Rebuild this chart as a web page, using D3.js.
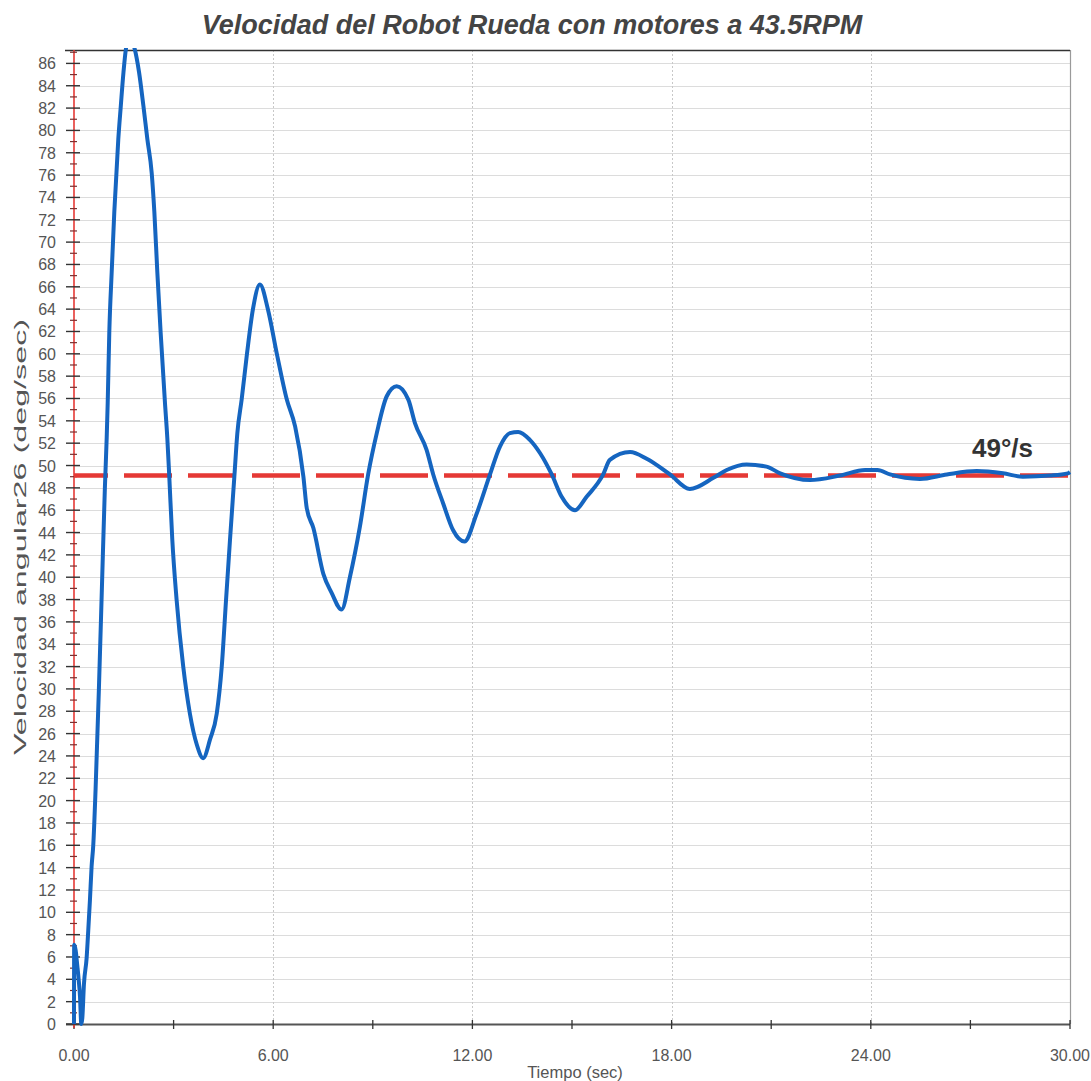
<!DOCTYPE html>
<html>
<head>
<meta charset="utf-8">
<script src="https://cdn.jsdelivr.net/npm/d3@7"></script>
<style>
  html, body { margin: 0; padding: 0; background: #fff; }
  svg { display: block; }
  text { font-family: "Liberation Sans", Arial, sans-serif; }
</style>
</head>
<body>
<svg id="chart" width="1091" height="1081"></svg>
<script>
// ---- data ----
const title = "Velocidad del Robot Rueda con motores a 43.5RPM";
const xLabel = "Tiempo (sec)";
const yLabel = "Velocidad angular26 (deg/sec)";
const refLabel = "49°/s";
const refValue = 49.1;
const xTicks = [0, 6, 12, 18, 24, 30];
const xMinorTicks = [3, 9, 15, 21, 27];
const yTicks = d3.range(0, 87, 2);
const yMinorTicks = d3.range(1, 88, 2);

const time = [
  0, 0.005, 0.05, 0.1, 0.14, 0.18, 0.22, 0.25, 0.3, 0.38, 0.43, 0.48, 0.53, 0.58,
  0.65, 0.75, 0.84, 0.93, 0.985, 1.015, 1.063, 1.135, 1.214, 1.334, 1.41, 1.49,
  1.58, 1.68, 1.8, 1.96, 2.09, 2.21, 2.34, 2.42, 2.51, 2.61, 2.74, 2.81, 2.87,
  2.96, 3.09, 3.29, 3.49, 3.70, 3.89, 4.10, 4.30, 4.45, 4.58, 4.70, 4.83, 4.92,
  5.05, 5.21, 5.39, 5.6, 5.84, 6.11, 6.41, 6.66, 6.91, 7.01, 7.21, 7.51, 7.76,
  8.06, 8.31, 8.61, 8.86, 9.12, 9.42, 9.72, 10.07, 10.27, 10.62, 10.82, 11.12,
  11.42, 11.76, 12.13, 12.53, 12.83, 13.13, 13.38, 13.73, 14.04, 14.39, 14.69,
  15.09, 15.44, 15.94, 16.14, 16.75, 17.25, 17.95, 18.55, 19.26, 19.66, 20.26,
  20.86, 21.27, 22.17, 23.07, 23.83, 24.2, 24.58, 25.48, 26.29, 27.19, 27.98,
  28.58, 29.40, 29.94, 30
];
const velocity = [
  0, 7.1, 6.6, 5.2, 4.0, 2.5, 0, 0.5, 3.6, 5.9, 8.4, 11.1, 14.1, 16,
  21, 30, 39, 48, 52.5, 55.6, 61.9, 67.3, 72.7, 79.2, 82.2, 85.2,
  87.6, 88.3, 87.6, 85.2, 82.2, 79.2, 76.2, 72.7, 67.3, 61.9, 55.6, 52.5, 49,
  43.4, 38, 32, 27.8, 25, 23.8, 25.5, 27.8, 32, 38, 43.4, 49, 52.9,
  55.9, 60, 64, 66.2, 64, 60, 55.9, 53.5, 49, 46.2, 44.4, 40.3, 38.6,
  37.1, 40, 44.5, 49.2, 52.9, 56.2, 57.1, 55.9, 53.8, 51.4, 49.2, 46.6,
  44.2, 43.2, 45.7, 49.2, 51.7, 52.9, 53.0, 52.3, 51.1, 49.2, 47.2,
  46.0, 47.2, 49.2, 50.5, 51.2, 50.6, 49.2, 47.9, 48.9, 49.6, 50.1,
  49.9, 49.3, 48.7, 49.1, 49.6, 49.6, 49.2, 48.8, 49.2, 49.5, 49.3,
  49.0, 49.1, 49.3, 49.4
];

// ---- layout ----
const svg = d3.select("#chart");
const L = 74, R = 1070, T = 50, B = 1024;
const x = d3.scaleLinear().domain([0, 30]).range([L, R]);
const y = d3.scaleLinear().domain([0, 87.2]).range([B, T]);

// gridlines horizontal
svg.append("g").selectAll("line").data(yTicks.filter(d => d > 0)).join("line")
  .attr("x1", L).attr("x2", R)
  .attr("y1", d => Math.round(y(d)) + 0.5).attr("y2", d => Math.round(y(d)) + 0.5)
  .attr("stroke", "#dcdcdc").attr("stroke-width", 1.2);

// gridlines vertical
svg.append("g").selectAll("line").data(xTicks.filter(d => d > 0 && d < 30)).join("line")
  .attr("x1", d => Math.round(x(d)) + 0.5).attr("x2", d => Math.round(x(d)) + 0.5)
  .attr("y1", T).attr("y2", B)
  .attr("stroke", "#c8c8c8").attr("stroke-width", 1).attr("stroke-dasharray", "2,2");

// right border
svg.append("line").attr("x1", R + 0.5).attr("x2", R + 0.5).attr("y1", T).attr("y2", B)
  .attr("stroke", "#9a9a9a").attr("stroke-width", 1.2);
// top border
svg.append("line").attr("x1", L - 9).attr("x2", R).attr("y1", T + 0.5).attr("y2", T + 0.5)
  .attr("stroke", "#333").attr("stroke-width", 1.5);

// x axis
const xAxis = svg.append("g").attr("transform", `translate(0,${B})`);
xAxis.append("line").attr("x1", L - 8).attr("x2", R).attr("y1", 0.5).attr("y2", 0.5)
  .attr("stroke", "#555").attr("stroke-width", 2);
xAxis.selectAll("line.tk").data(xTicks.concat(xMinorTicks)).join("line").attr("class", "tk")
  .attr("x1", d => x(d)).attr("x2", d => x(d)).attr("y1", -4).attr("y2", 5)
  .attr("stroke", "#333").attr("stroke-width", 1.3);
xAxis.selectAll("text").data(xTicks).join("text")
  .attr("x", d => x(d)).attr("y", 37)
  .attr("text-anchor", "middle").attr("font-size", 16).attr("fill", "#555")
  .text(d => d3.format(".2f")(d));

// y axis
const yAxis = svg.append("g");
yAxis.append("line").attr("x1", L).attr("x2", L).attr("y1", T).attr("y2", B + 4)
  .attr("stroke", "#e53935").attr("stroke-width", 1.6);
yAxis.selectAll("line.maj").data(yTicks).join("line").attr("class", "maj")
  .attr("x1", L - 8).attr("x2", L + 6)
  .attr("y1", d => y(d)).attr("y2", d => y(d))
  .attr("stroke", "#333").attr("stroke-width", 1.4);
yAxis.selectAll("line.min").data(yMinorTicks.filter(d => d < 87.2)).join("line").attr("class", "min")
  .attr("x1", L - 4).attr("x2", L + 3)
  .attr("y1", d => y(d)).attr("y2", d => y(d))
  .attr("stroke", "#7a3030").attr("stroke-width", 1.2);
yAxis.selectAll("text").data(yTicks).join("text")
  .attr("x", 56).attr("y", d => y(d) + 6)
  .attr("text-anchor", "end").attr("font-size", 16).attr("fill", "#555")
  .text(d => d);

// reference line
svg.append("line")
  .attr("x1", L).attr("x2", R)
  .attr("y1", y(refValue)).attr("y2", y(refValue))
  .attr("stroke", "#e53935").attr("stroke-width", 4.5)
  .attr("stroke-dasharray", "48,16").attr("stroke-dashoffset", 14);

// data line
svg.append("clipPath").attr("id", "clip").append("rect")
  .attr("x", L - 3).attr("y", T - 2).attr("width", R - L + 6).attr("height", B - T + 4);
const pts = time.map((t, i) => [t, velocity[i]]);
svg.append("path").datum(pts)
  .attr("clip-path", "url(#clip)")
  .attr("fill", "none").attr("stroke", "#1565c0").attr("stroke-width", 4)
  .attr("stroke-linejoin", "round")
  .attr("d", d3.line().x(d => x(d[0])).y(d => y(d[1])).curve(d3.curveMonotoneX));

// ref label
svg.append("text").attr("x", 972).attr("y", 457)
  .attr("font-size", 26).attr("font-weight", "bold").attr("fill", "#333")
  .text(refLabel);

// title
svg.append("text").attr("x", 532).attr("y", 34)
  .attr("text-anchor", "middle").attr("font-size", 27)
  .attr("font-weight", "bold").attr("font-style", "italic").attr("fill", "#444")
  .text(title);

// axis labels
svg.append("text").attr("x", 575).attr("y", 1078)
  .attr("text-anchor", "middle").attr("font-size", 16.5).attr("fill", "#555")
  .text(xLabel);
svg.append("text")
  .attr("transform", `translate(26,537) rotate(-90) scale(1.9,1)`)
  .attr("text-anchor", "middle").attr("font-size", 17).attr("fill", "#555")
  .text(yLabel);
</script>
</body>
</html>
